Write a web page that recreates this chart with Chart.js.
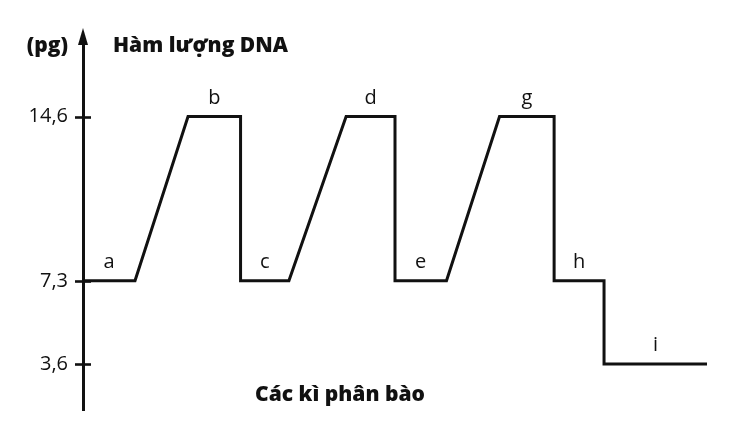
<!DOCTYPE html>
<html>
<head>
<meta charset="utf-8">
<script src="https://cdn.jsdelivr.net/npm/chart.js@4.4.1/dist/chart.umd.min.js"></script>
<style>
  html, body { margin: 0; padding: 0; background: #fff; }
  #wrap { width: 751px; height: 441px; }
</style>
</head>
<body>
<div id="wrap"><canvas id="c" width="751" height="441"></canvas></div>
<script>
// Hàm lượng DNA qua các kì phân bào (đồ thị dạng sơ đồ)
var phaseX = [0, 1, 2.02, 3.03, 3.03, 3.96, 5.06, 6, 6, 6.99, 8.01, 9.06, 9.06, 10.02, 10.02, 12];
var dnaPg  = [7.3, 7.3, 14.6, 14.6, 7.3, 7.3, 14.6, 14.6, 7.3, 7.3, 14.6, 14.6, 7.3, 7.3, 3.6, 3.6];
var phaseLabels = ['a', 'b', 'c', 'd', 'e', 'g', 'h', 'i'];
var yTicks = [3.6, 7.3, 14.6];
var yTitle = 'Hàm lượng DNA';
var yUnit = '(pg)';
var xTitle = 'Các kì phân bào';

var INK = '#111';
var FONT = '"Open Sans", "Noto Sans", sans-serif';

var $ = function (id) { return document.getElementById(id); };
var vn = function (v) { return String(v).replace('.', ','); };

// mũi tên trục tung, vạch chia, nhãn a..i và tiêu đề
var sketchPlugin = {
  id: 'sketch',
  afterDraw: function (chart) {
    var ctx = chart.ctx, area = chart.chartArea;
    var xs = chart.scales.x, ys = chart.scales.y;
    var ax = ys.right;
    ctx.save();
    ctx.fillStyle = INK; ctx.strokeStyle = INK;

    // mũi tên
    ctx.beginPath();
    ctx.moveTo(ax, area.top - 12);
    ctx.lineTo(ax - 5, area.top + 5);
    ctx.lineTo(ax + 5, area.top + 5);
    ctx.closePath(); ctx.fill();

    // vạch chia cắt ngang trục
    ctx.lineWidth = 2.6;
    yTicks.forEach(function (v) {
      var py = Math.round(ys.getPixelForValue(v)) + 0.5;
      ctx.beginPath(); ctx.moveTo(ax - 8, py); ctx.lineTo(ax + 8, py); ctx.stroke();
    });

    // nhãn từng đoạn nằm ngang
    ctx.font = '20px ' + FONT;
    ctx.textAlign = 'center'; ctx.textBaseline = 'alphabetic';
    var k = 0;
    for (var i = 0; i < phaseX.length - 1 && k < phaseLabels.length; i++) {
      if (dnaPg[i] === dnaPg[i + 1] && phaseX[i] !== phaseX[i + 1]) {
        var cx = (xs.getPixelForValue(phaseX[i]) + xs.getPixelForValue(phaseX[i + 1])) / 2;
        ctx.fillText(phaseLabels[k++], cx, ys.getPixelForValue(dnaPg[i]) - 13);
      }
    }

    // tiêu đề
    ctx.font = '800 21px ' + FONT;
    ctx.textAlign = 'right';
    ctx.fillText(yUnit, ax - 15, area.top + 12);
    ctx.textAlign = 'left';
    ctx.fillText(yTitle, ax + 30, area.top + 12);
    ctx.textAlign = 'center';
    ctx.fillText(xTitle, ax + 257, area.bottom - 9);
    ctx.restore();
  }
};

new Chart($('c'), {
  type: 'line',
  data: {
    datasets: [{
      data: phaseX.map(function (x, i) { return { x: x, y: dnaPg[i] }; }),
      borderColor: INK, borderWidth: 3, pointRadius: 0, tension: 0, fill: false,
      borderJoinStyle: 'miter', clip: false
    }]
  },
  options: {
    responsive: false, animation: false,
    layout: { padding: { top: 40, bottom: 31, right: 18, left: 0 } },
    plugins: { legend: { display: false }, tooltip: { enabled: false } },
    scales: {
      x: { type: 'linear', min: 0, max: 12.5, display: false },
      y: {
        type: 'linear', min: 1.56, max: 18.0,
        afterFit: function (s) { s.width = 83; },
        afterBuildTicks: function (s) { s.ticks = yTicks.map(function (v) { return { value: v }; }); },
        grid: { display: false, drawTicks: false },
        border: { display: true, color: INK, width: 3 },
        ticks: {
          padding: 15, color: INK, font: { family: FONT, size: 20 },
          callback: function (v) { return vn(v); }
        }
      }
    }
  },
  plugins: [sketchPlugin]
});
</script>
</body>
</html>
